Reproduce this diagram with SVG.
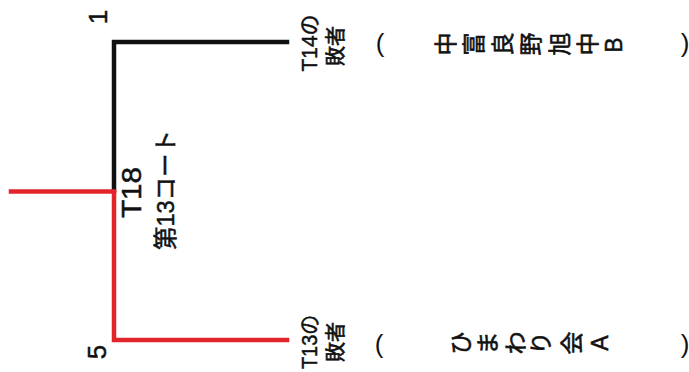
<svg xmlns="http://www.w3.org/2000/svg" width="689" height="372" viewBox="0 0 689 372">
<style>
.t{font-family:"Liberation Sans","Noto Sans CJK JP",sans-serif;fill:#111;stroke:#111;stroke-width:0.5;text-anchor:middle;dominant-baseline:central}
.p{font-family:"Liberation Sans",sans-serif;fill:#111;text-anchor:middle;dominant-baseline:central}
.j{font-family:"Noto Sans CJK JP","Liberation Sans",sans-serif;fill:#111;stroke:#111;stroke-width:0.6;text-anchor:middle;dominant-baseline:central;font-size:23px}
.blk{fill:none;stroke:#111;stroke-width:4.5;stroke-linecap:square}
.red{fill:none;stroke:#e2242b;stroke-width:4.5;stroke-linecap:square}
</style>
<rect width="689" height="372" fill="#fff"/>
<g id="connectors">
<path class="blk" d="M287,42 H114 V190"/>
<path class="red" d="M11,191.5 H114"/>
<path class="red" d="M114,192 V340 H287"/>
</g>
<g id="seed1">
<text class="t" font-size="26" transform="translate(98,17) rotate(-90)">1</text>
</g>
<g id="seed5">
<text class="t" font-size="26" transform="translate(97,352) rotate(-90)">5</text>
</g>
<g id="match-T18">
<text class="t" font-size="27" textLength="51" lengthAdjust="spacingAndGlyphs" transform="translate(132,192.5) rotate(-90)">T18</text>
<text class="t" font-size="24" textLength="120" lengthAdjust="spacingAndGlyphs" transform="translate(165.5,190) rotate(-90)">第13コート</text>
</g>
<g id="slot-top">
<text class="t" font-size="22" textLength="57" lengthAdjust="spacingAndGlyphs" transform="translate(309,43) rotate(-90)">T14の</text>
<text class="j" style="font-size:20px" transform="translate(334,46) rotate(-90)">敗者</text>
<text class="p" font-size="26" x="380" y="43">(</text>
<text class="j" transform="translate(443.5,44) rotate(-90)">中</text>
<text class="j" transform="translate(472,44) rotate(-90)">富</text>
<text class="j" transform="translate(500.5,44) rotate(-90)">良</text>
<text class="j" transform="translate(529,44) rotate(-90)">野</text>
<text class="j" transform="translate(557.5,44) rotate(-90)">旭</text>
<text class="j" transform="translate(586,44) rotate(-90)">中</text>
<text class="t" font-size="23" transform="translate(614,45) rotate(-90)">B</text>
<text class="p" font-size="26" x="685" y="43">)</text>
</g>
<g id="slot-bottom">
<text class="t" font-size="22" textLength="54" lengthAdjust="spacingAndGlyphs" transform="translate(309,342) rotate(-90)">T13の</text>
<text class="j" style="font-size:20px" transform="translate(334,342) rotate(-90)">敗者</text>
<text class="p" font-size="26" x="379" y="344">(</text>
<text class="j" transform="translate(458.5,343) rotate(-90)">ひ</text>
<text class="j" transform="translate(486,343) rotate(-90)">ま</text>
<text class="j" transform="translate(513.5,343) rotate(-90)">わ</text>
<text class="j" transform="translate(539,343) rotate(-90)">り</text>
<text class="j" transform="translate(570,343) rotate(-90)">会</text>
<text class="t" font-size="23" transform="translate(600,343) rotate(-90)">A</text>
<text class="p" font-size="26" x="685" y="344">)</text>
</g>
</svg>
